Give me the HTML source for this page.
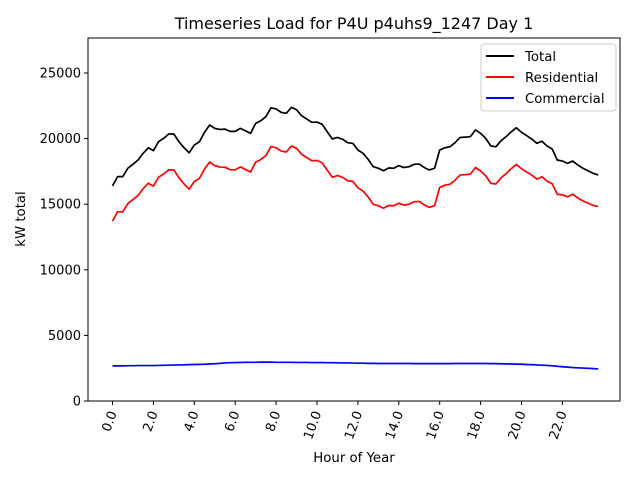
<!DOCTYPE html>
<html><head><meta charset="utf-8"><style>
html,body{margin:0;padding:0;background:#fff;}
svg text{font-family:"DejaVu Sans","Liberation Sans",sans-serif;}
</style></head><body>
<svg id="chart" width="640" height="480" xmlns="http://www.w3.org/2000/svg">
<rect width="640" height="480" fill="#fff"/>
<text x="354" y="29" font-size="16" text-anchor="middle">Timeseries Load for P4U p4uhs9_1247  Day 1</text>
<text transform="translate(25,219) rotate(-90)" font-size="13.3" text-anchor="middle">kW total</text>
<text x="354" y="462" font-size="13.3" text-anchor="middle">Hour of Year</text>
<g id="ticks"></g>
<g id="series"></g>
<rect x="88" y="38" width="532" height="363" fill="none" stroke="#000" stroke-width="1"/>
<g>
<rect x="481" y="44" width="135" height="67" fill="#fff" fill-opacity="0.8" stroke="#ccc" rx="3"/>
<line x1="486" y1="56" x2="514" y2="56" stroke="#000" stroke-width="2"/>
<text x="525" y="61" font-size="13.3">Total</text>
<line x1="486" y1="77" x2="514" y2="77" stroke="#f00" stroke-width="2"/>
<text x="525" y="82" font-size="13.3">Residential</text>
<line x1="486" y1="98" x2="514" y2="98" stroke="#00f" stroke-width="2"/>
<text x="525" y="103" font-size="13.3">Commercial</text>
</g>
</svg>
<script>
const xTicks = [0,2,4,6,8,10,12,14,16,18,20,22];
const xTickLabels = ["0.0","2.0","4.0","6.0","8.0","10.0","12.0","14.0","16.0","18.0","20.0","22.0"];
const yTicks = [0,5000,10000,15000,20000,25000];
const yTickLabels = ["0","5000","10000","15000","20000","25000"];
const total = [16390,17100,17100,17740,18040,18370,18880,19300,19080,19760,20020,20350,20350,19760,19300,18920,19510,19760,20480,21040,20780,20700,20720,20550,20550,20780,20600,20400,21160,21360,21670,22350,22260,22000,21930,22380,22200,21740,21490,21240,21260,21090,20520,19970,20090,19950,19690,19640,19130,18880,18420,17860,17740,17550,17760,17740,17940,17790,17860,18040,18060,17790,17610,17740,19130,19300,19380,19690,20090,20110,20150,20660,20400,20020,19440,19380,19840,20150,20520,20830,20480,20230,19970,19640,19800,19440,19210,18370,18290,18110,18290,17990,17740,17550,17350,17230];
const residential = [13710,14420,14420,15050,15350,15670,16180,16600,16380,17050,17300,17620,17610,17010,16540,16150,16730,16970,17680,18220,17940,17830,17820,17630,17620,17840,17650,17450,18210,18400,18710,19390,19310,19050,18980,19430,19260,18800,18550,18310,18330,18160,17600,17050,17180,17050,16790,16750,16250,16000,15550,14990,14880,14690,14900,14880,15080,14930,15000,15190,15210,14940,14760,14890,16280,16450,16520,16830,17230,17250,17290,17800,17540,17170,16590,16540,17010,17330,17710,18030,17700,17460,17220,16910,17090,16760,16560,15760,15710,15560,15760,15480,15250,15080,14910,14820];
const commercial = [2680,2680,2680,2690,2690,2700,2700,2700,2700,2710,2720,2730,2740,2750,2760,2770,2780,2790,2800,2820,2840,2870,2900,2920,2930,2940,2950,2950,2950,2960,2960,2960,2950,2950,2950,2950,2940,2940,2940,2930,2930,2930,2920,2920,2910,2900,2900,2890,2880,2880,2870,2870,2860,2860,2860,2860,2860,2860,2860,2850,2850,2850,2850,2850,2850,2850,2850,2860,2860,2860,2860,2860,2860,2860,2850,2850,2840,2830,2820,2810,2800,2780,2770,2750,2730,2710,2680,2650,2610,2580,2550,2530,2510,2490,2470,2440];

const NS = "http://www.w3.org/2000/svg";
function xs(h){ return 112.5 + h * 20.45; }
function ys(v){ return 401 - v * (65.6 / 5000); }

const tg = document.getElementById('ticks');
xTicks.forEach((t,i)=>{
  const x = xs(t);
  const l = document.createElementNS(NS,'line');
  
  
  l.setAttribute('x1',x); l.setAttribute('x2',x); l.setAttribute('y1',401); l.setAttribute('y2',405);
  l.setAttribute('stroke','#000');
  tg.appendChild(l);
  const tx = document.createElementNS(NS,'text');
  
  
  tx.setAttribute('font-size','13');
  tx.setAttribute('text-anchor','end');
  tx.setAttribute('transform','translate('+(x+4.5)+',413) rotate(-70)');
  tx.textContent = xTickLabels[i];
  tg.appendChild(tx);
});
yTicks.forEach((t,i)=>{
  const y = ys(t);
  const l = document.createElementNS(NS,'line');
  
  
  l.setAttribute('x1',84); l.setAttribute('x2',88); l.setAttribute('y1',y); l.setAttribute('y2',y);
  l.setAttribute('stroke','#000');
  tg.appendChild(l);
  const tx = document.createElementNS(NS,'text');
  
  
  tx.setAttribute('font-size','13');
  tx.setAttribute('text-anchor','end');
  tx.setAttribute('x',81); tx.setAttribute('y',y+4.5);
  tx.textContent = yTickLabels[i];
  tg.appendChild(tx);
});

const sg = document.getElementById('series');
function drawLine(vals,color,name){
  const pts = vals.map((v,i)=> xs(i*0.25).toFixed(2)+','+ys(v).toFixed(2)).join(' ');
  const p = document.createElementNS(NS,'polyline');
  
  
  p.setAttribute('points',pts);
  p.setAttribute('fill','none');
  p.setAttribute('stroke',color);
  p.setAttribute('stroke-width','1.7');
  p.setAttribute('stroke-linejoin','round');
  sg.appendChild(p);
}
drawLine(total,'#000','total-line');
drawLine(residential,'#f00','residential-line');
drawLine(commercial,'#00f','commercial-line');
</script>
</body></html>
